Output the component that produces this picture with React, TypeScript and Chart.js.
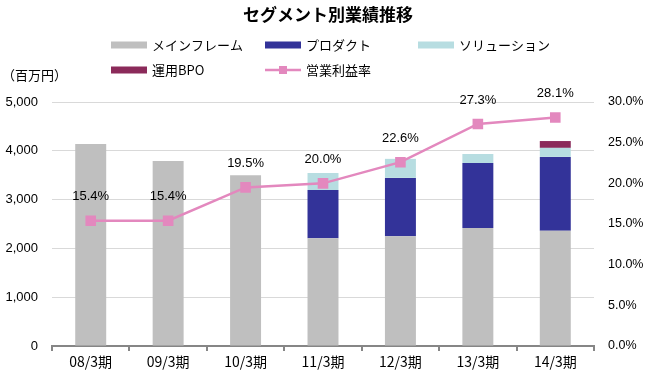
import React, { useEffect, useRef } from "react";
import { Chart, registerables } from "chart.js";

Chart.register(...registerables);

const categories = ["08/3期", "09/3期", "10/3期", "11/3期", "12/3期", "13/3期", "14/3期"];
const mainframe = [4140, 3790, 3500, 2210, 2250, 2420, 2360];
const product = [null, null, null, 985, 1195, 1330, 1515];
const solution = [null, null, null, 350, 390, 185, 185];
const bpo = [null, null, null, null, null, null, 140];
const margin = [15.4, 15.4, 19.5, 20.0, 22.6, 27.3, 28.1];

const TITLE = "セグメント別業績推移";
const UNIT = "（百万円）";

const C_MAIN = "#BFBFBF";
const C_PROD = "#333399";
const C_SOL = "#B7DDE1";
const C_BPO = "#8B2A5A";
const C_LINE = "#E388BE";

const JP = '"Noto Sans CJK JP", sans-serif';
const NUM = '"Liberation Sans", Arial, sans-serif';

const decorPlugin = {
  id: "decor",
  afterDraw(chart: any) {
    const ctx = chart.ctx;
    ctx.save();
    // title
    ctx.fillStyle = "#000";
    ctx.font = `bold 17px ${JP}`;
    ctx.textAlign = "center";
    ctx.textBaseline = "middle";
    ctx.fillText(TITLE, 328, 15);

    // legend
    const items = [
      { label: "メインフレーム", color: C_MAIN, x: 111, y: 45, type: "box" },
      { label: "プロダクト", color: C_PROD, x: 265, y: 45, type: "box" },
      { label: "ソリューション", color: C_SOL, x: 418, y: 45, type: "box" },
      { label: "運用BPO", color: C_BPO, x: 111, y: 70, type: "box" },
      { label: "営業利益率", color: C_LINE, x: 265, y: 70, type: "line" },
    ];
    ctx.font = `13px ${JP}`;
    ctx.textAlign = "left";
    for (const it of items) {
      if (it.type === "box") {
        ctx.fillStyle = it.color;
        ctx.fillRect(it.x, it.y - 3.5, 36, 7);
      } else {
        ctx.strokeStyle = it.color;
        ctx.lineWidth = 2.5;
        ctx.beginPath();
        ctx.moveTo(it.x, it.y);
        ctx.lineTo(it.x + 36, it.y);
        ctx.stroke();
        ctx.fillStyle = it.color;
        ctx.fillRect(it.x + 18 - 4, it.y - 4, 8, 8);
      }
      ctx.fillStyle = "#000";
      ctx.fillText(it.label, it.x + 41, it.y);
    }

    // unit label
    ctx.font = `13px ${JP}`;
    ctx.fillText(UNIT, 2, 75);

    // data labels
    const meta = chart.getDatasetMeta(4);
    ctx.font = `13px ${NUM}`;
    ctx.textAlign = "center";
    meta.data.forEach((pt: any, i: number) => {
      ctx.fillText(margin[i].toFixed(1) + "%", pt.x, pt.y - 24);
    });
    ctx.restore();
  },
};

export default function App() {
  const ref = useRef<HTMLCanvasElement>(null);
  useEffect(() => {
    document.body.style.margin = "0";
    const chart = new Chart(ref.current!, {
      type: "bar",
      data: {
        labels: categories,
        datasets: [
          { label: "メインフレーム", data: mainframe, backgroundColor: C_MAIN, yAxisID: "y", order: 1, stack: "s" },
          { label: "プロダクト", data: product, backgroundColor: C_PROD, yAxisID: "y", order: 1, stack: "s" },
          { label: "ソリューション", data: solution, backgroundColor: C_SOL, yAxisID: "y", order: 1, stack: "s" },
          { label: "運用BPO", data: bpo, backgroundColor: C_BPO, yAxisID: "y", order: 1, stack: "s" },
          {
            type: "line",
            label: "営業利益率",
            data: margin,
            borderColor: C_LINE,
            backgroundColor: C_LINE,
            borderWidth: 2.5,
            pointStyle: "rect",
            pointRadius: 7.5,
            pointBorderWidth: 0,
            yAxisID: "y1",
            order: 0,
          } as any,
        ],
      },
      options: {
        responsive: false,
        animation: false,
        events: [],
        datasets: { bar: { barPercentage: 0.4, categoryPercentage: 1 } },
        layout: { padding: { top: 102, left: 0, right: 0, bottom: 0 } },
        plugins: { legend: { display: false }, title: { display: false }, tooltip: { enabled: false } },
        scales: {
          x: {
            stacked: true,
            grid: { offset: true, drawOnChartArea: false, drawTicks: true, tickLength: 5, color: "#868686", lineWidth: 2 },
            border: { color: "#868686", width: 2 },
            ticks: { color: "#000", font: { family: JP, size: 14 }, padding: 2, maxRotation: 0 },
            afterFit: (s: any) => { s.height = 32; },
          },
          y: {
            stacked: true,
            min: 0,
            max: 5000,
            position: "left",
            grid: { color: "#D9D9D9", drawTicks: false, lineWidth: 1 },
            border: { display: false },
            ticks: {
              stepSize: 1000,
              padding: 14,
              color: "#000",
              font: { family: NUM, size: 13 },
              callback: (v: any) => Number(v).toLocaleString("en-US"),
            },
            afterFit: (s: any) => { s.width = 52; },
          },
          y1: {
            min: 0,
            max: 30,
            position: "right",
            grid: { drawOnChartArea: false, drawTicks: false },
            border: { display: false },
            ticks: {
              stepSize: 5,
              padding: 14,
              color: "#000",
              font: { family: NUM, size: 12.5 },
              callback: (v: any) => Number(v).toFixed(1) + "%",
            },
            afterFit: (s: any) => { s.width = 53; },
          },
        },
      },
      plugins: [decorPlugin],
    });
    return () => chart.destroy();
  }, []);
  return (
    <div style={{ position: "fixed", left: 0, top: 0, width: 647, height: 378, background: "#fff" }}>
      <canvas ref={ref} width={647} height={378} />
    </div>
  );
}
